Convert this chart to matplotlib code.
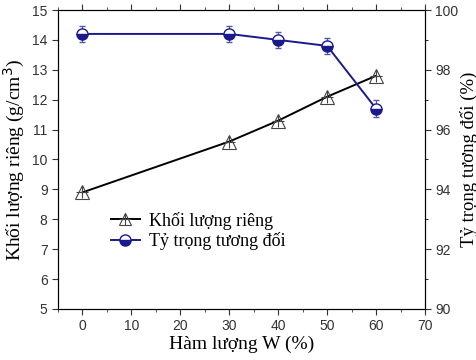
import numpy as np
import matplotlib.pyplot as plt
from matplotlib.ticker import MultipleLocator
from matplotlib.lines import Line2D

# Du lieu doc tu hinh
w = [0, 30, 40, 50, 60]
khoi_luong = [8.9, 10.6, 11.3, 12.1, 12.8]
ty_trong = [99.2, 99.2, 99.0, 98.8, 96.7]
ty_trong_err = [0.28, 0.28, 0.28, 0.28, 0.28]

serif = ['Liberation Serif', 'DejaVu Serif']
plt.rcParams['font.family'] = 'sans-serif'
plt.rcParams['font.sans-serif'] = ['Liberation Sans', 'DejaVu Sans']

fig = plt.figure(figsize=(4.77, 3.6), dpi=100)
ax = fig.add_axes([0.1216, 0.1417, 0.7694, 0.8305])
ax2 = ax.twinx()

navy = '#1a1a8c'

# duong khoi luong rieng (tam giac + dau cong)
ax.plot(w, khoi_luong, color='black', lw=1.4, marker='^', ms=10,
        mfc='none', mec='#444444', mew=0.8, zorder=3)
ax.plot(w, khoi_luong, ls='none', marker='+', ms=9, mec='#444444', mew=0.8, zorder=3)

# duong ty trong tuong doi (tron nua to)
ax2.errorbar(w, ty_trong, yerr=ty_trong_err, color=navy, lw=1.4, marker='o', ms=8,
             fillstyle='bottom', mfc=navy, mfcalt='white', mec=navy, mew=1.0,
             ecolor='#5555aa', elinewidth=0.8, capsize=2.5, capthick=0.8)

ax.set_xlim(-5, 70)
ax.set_ylim(5, 15)
ax2.set_ylim(90, 100)

ax.xaxis.set_major_locator(MultipleLocator(10))
ax.xaxis.set_minor_locator(MultipleLocator(5))
ax.yaxis.set_major_locator(MultipleLocator(1))
ax2.yaxis.set_major_locator(MultipleLocator(2))
ax2.yaxis.set_minor_locator(MultipleLocator(1))

ax.tick_params(axis='x', which='both', direction='out', top=True, labelsize=10,
               colors='#333333', labelfontfamily='Liberation Sans')
ax.tick_params(axis='x', which='major', length=4)
ax.tick_params(axis='x', which='minor', length=2.5)
ax.tick_params(axis='y', which='major', direction='out', length=4, labelsize=10,
               colors='#333333', labelfontfamily='Liberation Sans')
ax2.tick_params(axis='y', which='major', direction='out', length=4, labelsize=10,
                colors='#333333', labelfontfamily='Liberation Sans')
ax2.tick_params(axis='y', which='minor', direction='out', length=2.5)

ax.set_xlabel('Hàm lượng W (%)', family=serif, fontsize=14, labelpad=2)
ax.set_ylabel('Khối lượng riêng (g/cm$^3$)', family=serif, fontsize=14, labelpad=4)
ax2.set_ylabel('Tỷ trọng tương đối (%)', family=serif, fontsize=13.5, labelpad=1)

# chu giai
h1 = (Line2D([], [], color='black', lw=1.4, marker='^', ms=9, mfc='none', mec='#444444', mew=0.8),
      Line2D([], [], ls='none', marker='+', ms=8, mec='#444444', mew=0.8))
h2 = Line2D([], [], color=navy, lw=1.4, marker='o', ms=8, fillstyle='bottom',
            mfc=navy, mfcalt='white', mec=navy)
ax.legend([h1, h2], ['Khối lượng riêng', 'Tỷ trọng tương đối'], loc='upper left',
          bbox_to_anchor=(0.1, 0.38), frameon=False, prop={'family': serif, 'size': 13},
          handlelength=1.6, handletextpad=0.5, labelspacing=0.15)

plt.savefig('out.png', dpi=100)
